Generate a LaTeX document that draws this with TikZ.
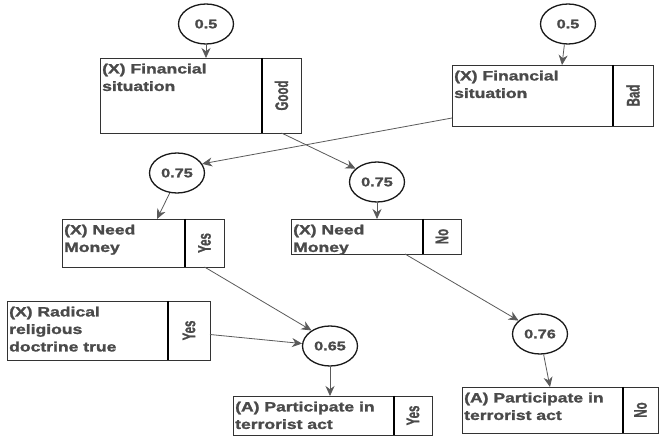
\documentclass[tikz,border=0pt]{standalone}
\usepackage{fontspec}
\setmainfont[BoldFeatures={FakeBold=1.3}]{Liberation Sans}
\usepackage{graphicx}
\usetikzlibrary{shapes.geometric,arrows.meta,calc}
\definecolor{txt}{HTML}{4A4A4A}
\definecolor{arr}{HTML}{5A5A5A}
\newcommand{\boxtxt}[1]{\scalebox{1.3}[1]{\begin{tabular}{@{}l@{}}#1\end{tabular}}}
\newcommand{\tabtxt}[1]{\rotatebox{90}{\scalebox{0.82}[1.3]{#1}}}
\newcommand{\probtxt}[1]{\scalebox{1.3}[1]{#1}}
\begin{document}
\begin{tikzpicture}[x=1pt,y=-1pt,
  mainbox/.style={draw=black!80, line width=0.8pt, anchor=north west, inner sep=0pt, outer sep=0pt},
  tabbox/.style={draw=black!80, line width=0.8pt, anchor=north west, inner sep=0pt, outer sep=0pt, font=\fontsize{14}{16}\selectfont\bfseries, text=txt},
  boxlabel/.style={anchor=north west, inner sep=0pt, font=\fontsize{13.5}{17.5}\selectfont\bfseries, text=txt},
  prob/.style={ellipse, draw=black!90, line width=1.3pt, minimum width=55pt, minimum height=40pt, inner sep=0pt, font=\fontsize{12.5}{14}\selectfont\bfseries, text=txt},
  conn/.style={draw=arr, line width=0.8pt, -{Stealth[length=10pt,width=9pt]}},
  divider/.style={line width=2pt, black}
]
\useasboundingbox[fill=white] (0,0) rectangle (659,438);

% probability circles
\node[prob] (c1) at (206,24) {\probtxt{0.5}};
\node[prob] (c2) at (568,24) {\probtxt{0.5}};
\node[prob] (c3) at (177,173) {\probtxt{0.75}};
\node[prob] (c4) at (377,182) {\probtxt{0.75}};
\node[prob] (c6) at (330,346) {\probtxt{0.65}};
\node[prob] (c7) at (540,334) {\probtxt{0.76}};

% boxes
\node[mainbox, minimum width=162pt, minimum height=75pt] (b1) at (100,58) {};
\node[tabbox, minimum width=39pt, minimum height=75pt] (b1tab) at (262,58) {\tabtxt{Good}};
\node[boxlabel] (b1t) at (102,61) {\boxtxt{(X) Financial\\situation}};

\node[mainbox, minimum width=161pt, minimum height=61pt] (b2) at (452,65) {};
\node[tabbox, minimum width=40pt, minimum height=61pt] (b2tab) at (613,65) {\tabtxt{Bad}};
\node[boxlabel] (b2t) at (454,68) {\boxtxt{(X) Financial\\situation}};

\node[mainbox, minimum width=123pt, minimum height=48pt] (b3) at (62,219) {};
\node[tabbox, minimum width=39pt, minimum height=48pt] (b3tab) at (185,219) {\tabtxt{Yes}};
\node[boxlabel] (b3t) at (64,222) {\boxtxt{(X) Need\\Money}};

\node[mainbox, minimum width=132pt, minimum height=35pt] (b4) at (291,219) {};
\node[tabbox, minimum width=38pt, minimum height=35pt] (b4tab) at (423,219) {\tabtxt{No}};
\node[boxlabel] (b4t) at (293,222) {\boxtxt{(X) Need\\Money}};

\node[mainbox, minimum width=161pt, minimum height=59pt] (b5) at (7,301) {};
\node[tabbox, minimum width=42pt, minimum height=59pt] (b5tab) at (168,301) {\tabtxt{Yes}};
\node[boxlabel] (b5t) at (9,304) {\boxtxt{(X) Radical\\religious\\doctrine true}};

\node[mainbox, minimum width=161pt, minimum height=39pt] (b6) at (233,396) {};
\node[tabbox, minimum width=38pt, minimum height=39pt] (b6tab) at (394,396) {\tabtxt{Yes}};
\node[boxlabel] (b6t) at (235,399) {\boxtxt{(A) Participate in\\terrorist act}};

\node[mainbox, minimum width=161pt, minimum height=46pt] (b7) at (462,387) {};
\node[tabbox, minimum width=35pt, minimum height=46pt] (b7tab) at (623,387) {\tabtxt{No}};
\node[boxlabel] (b7t) at (464,390) {\boxtxt{(A) Participate in\\terrorist act}};

% dividers
\foreach \b in {b1,b2,b3,b4,b5,b6,b7}
  \draw[divider] (\b.north east) -- (\b.south east);

% connectors
\draw[conn] (c1.south) -- (c1.south |- b1.north);
\draw[conn] (c2.-100) -- ([xshift=110pt]b2.north west);
\draw[conn] ([yshift=8pt]b2.south west) -- (c3.20);
\draw[conn] (b1tab.south) -- (c4.148);
\draw[conn] (c3.-110) -- ([xshift=95pt]b3.north west);
\draw[conn] (c4.south) -- (c4.south |- b4.north);
\draw[conn] (b3tab.south) -- (c6.140);
\draw[conn] ([yshift=-4pt]b5tab.east) -- (c6.175);
\draw[conn] (c6.south) -- (c6.south |- b6.north);
\draw[conn] ([xshift=-18pt]b4.south east) -- (c7.148);
\draw[conn] (c7.-80) -- ([xshift=88pt]b7.north west);
\end{tikzpicture}
\end{document}
